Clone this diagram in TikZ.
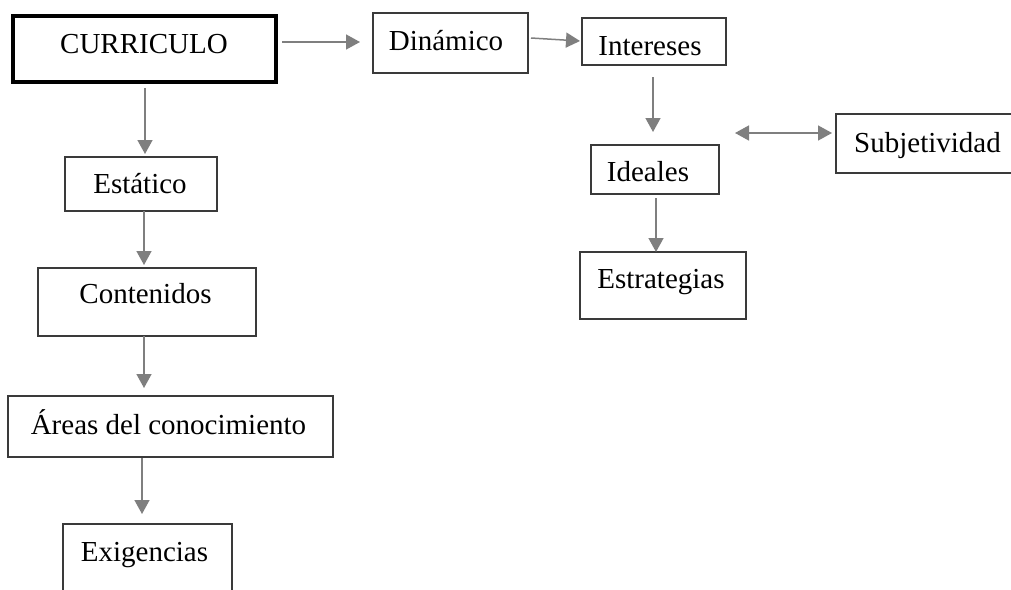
\documentclass[tikz,border=0pt]{standalone}
\usepackage{fontspec}
\setmainfont{Liberation Serif}
\usetikzlibrary{arrows.meta}
\definecolor{arrgray}{HTML}{7F7F7F}
\definecolor{boxline}{HTML}{3A3A3A}
\tikzset{
  box/.style={draw=boxline, line width=1.2pt, inner sep=0pt, outer sep=0pt, rectangle},
  mainbox/.style={draw=black, line width=4pt, inner sep=0pt, outer sep=0pt, rectangle},
  txt/.style={font=\fontsize{29}{34}\selectfont, inner sep=0pt, anchor=base},
  arr/.style={draw=arrgray, line width=1.5pt, -{Triangle[length=14pt,width=15pt]}, arrgray},
  darr/.style={draw=arrgray, line width=1.5pt, {Triangle[length=14pt,width=15pt]}-{Triangle[length=14pt,width=15pt]}, arrgray},
}
\begin{document}
\begin{tikzpicture}[x=1pt,y=-1pt]
\useasboundingbox (0,0) rectangle (1011,589);
\clip (0,0) rectangle (1011,589);
% boxes
\node[mainbox, minimum width=263pt, minimum height=66pt] (cur) at (144.5,49) {};
\node[box, minimum width=155pt, minimum height=60pt] (din) at (450.5,43) {};
\node[box, minimum width=144pt, minimum height=47pt] (int) at (654,41.5) {};
\node[box, minimum width=128pt, minimum height=49pt] (ide) at (655,169.5) {};
\node[box, minimum width=184pt, minimum height=59pt] (sub) at (928,143.5) {};
\node[box, minimum width=166pt, minimum height=67pt] (est) at (663,285.5) {};
\node[box, minimum width=152pt, minimum height=54pt] (sta) at (141,184) {};
\node[box, minimum width=218pt, minimum height=68pt] (con) at (147,302) {};
\node[box, minimum width=325pt, minimum height=61pt] (are) at (170.5,426.5) {};
\node[box, minimum width=169pt, minimum height=76pt] (exi) at (147.5,562) {};
% texts
\node[txt] (curT) at (144,53) {CURRICULO};
\node[txt] (dinT) at (446,50) {Dinámico};
\node[txt] (intT) at (650,55) {Intereses};
\node[txt] (ideT) at (648,181) {Ideales};
\node[txt] (subT) at (927.5,152) {Subjetividad};
\node[txt] (estT) at (661,288) {Estrategias};
\node[txt] (staT) at (140,193) {Estático};
\node[txt] (conT) at (145.5,303) {Contenidos};
\node[txt] (areT) at (168.5,434) {Áreas del conocimiento};
\node[txt] (exiT) at (144.5,561) {Exigencias};
% connectors
\draw[arr] ([xshift=6pt,yshift=7pt]cur.east) -- ([xshift=-13pt,yshift=1pt]din.west);
\draw[arr] ([xshift=3pt,yshift=5pt]din.east) -- ([xshift=-2pt,yshift=0.5pt]int.west);
\draw[arr] ([xshift=-1pt,yshift=-12pt]int.south) -- ([xshift=-2pt,yshift=13pt]ide.north);
\draw[darr] ([xshift=16pt,yshift=36.5pt]ide.east) -- ([xshift=-4pt,yshift=10.5pt]sub.west);
\draw[arr] ([xshift=1pt,yshift=-4pt]ide.south) -- ([xshift=-7pt]est.north);
\draw[arr] ([xshift=0.5pt,yshift=-6pt]cur.south) -- ([xshift=4pt,yshift=3pt]sta.north);
\draw[arr] ([xshift=3pt]sta.south) -- ([xshift=-3pt,yshift=3pt]con.north);
\draw[arr] ([xshift=-3pt]con.south) -- ([xshift=-26.5pt,yshift=8pt]are.north);
\draw[arr] ([xshift=-28.5pt,yshift=-1pt]are.south) -- ([xshift=-5.5pt,yshift=10pt]exi.north);
\end{tikzpicture}
\end{document}
